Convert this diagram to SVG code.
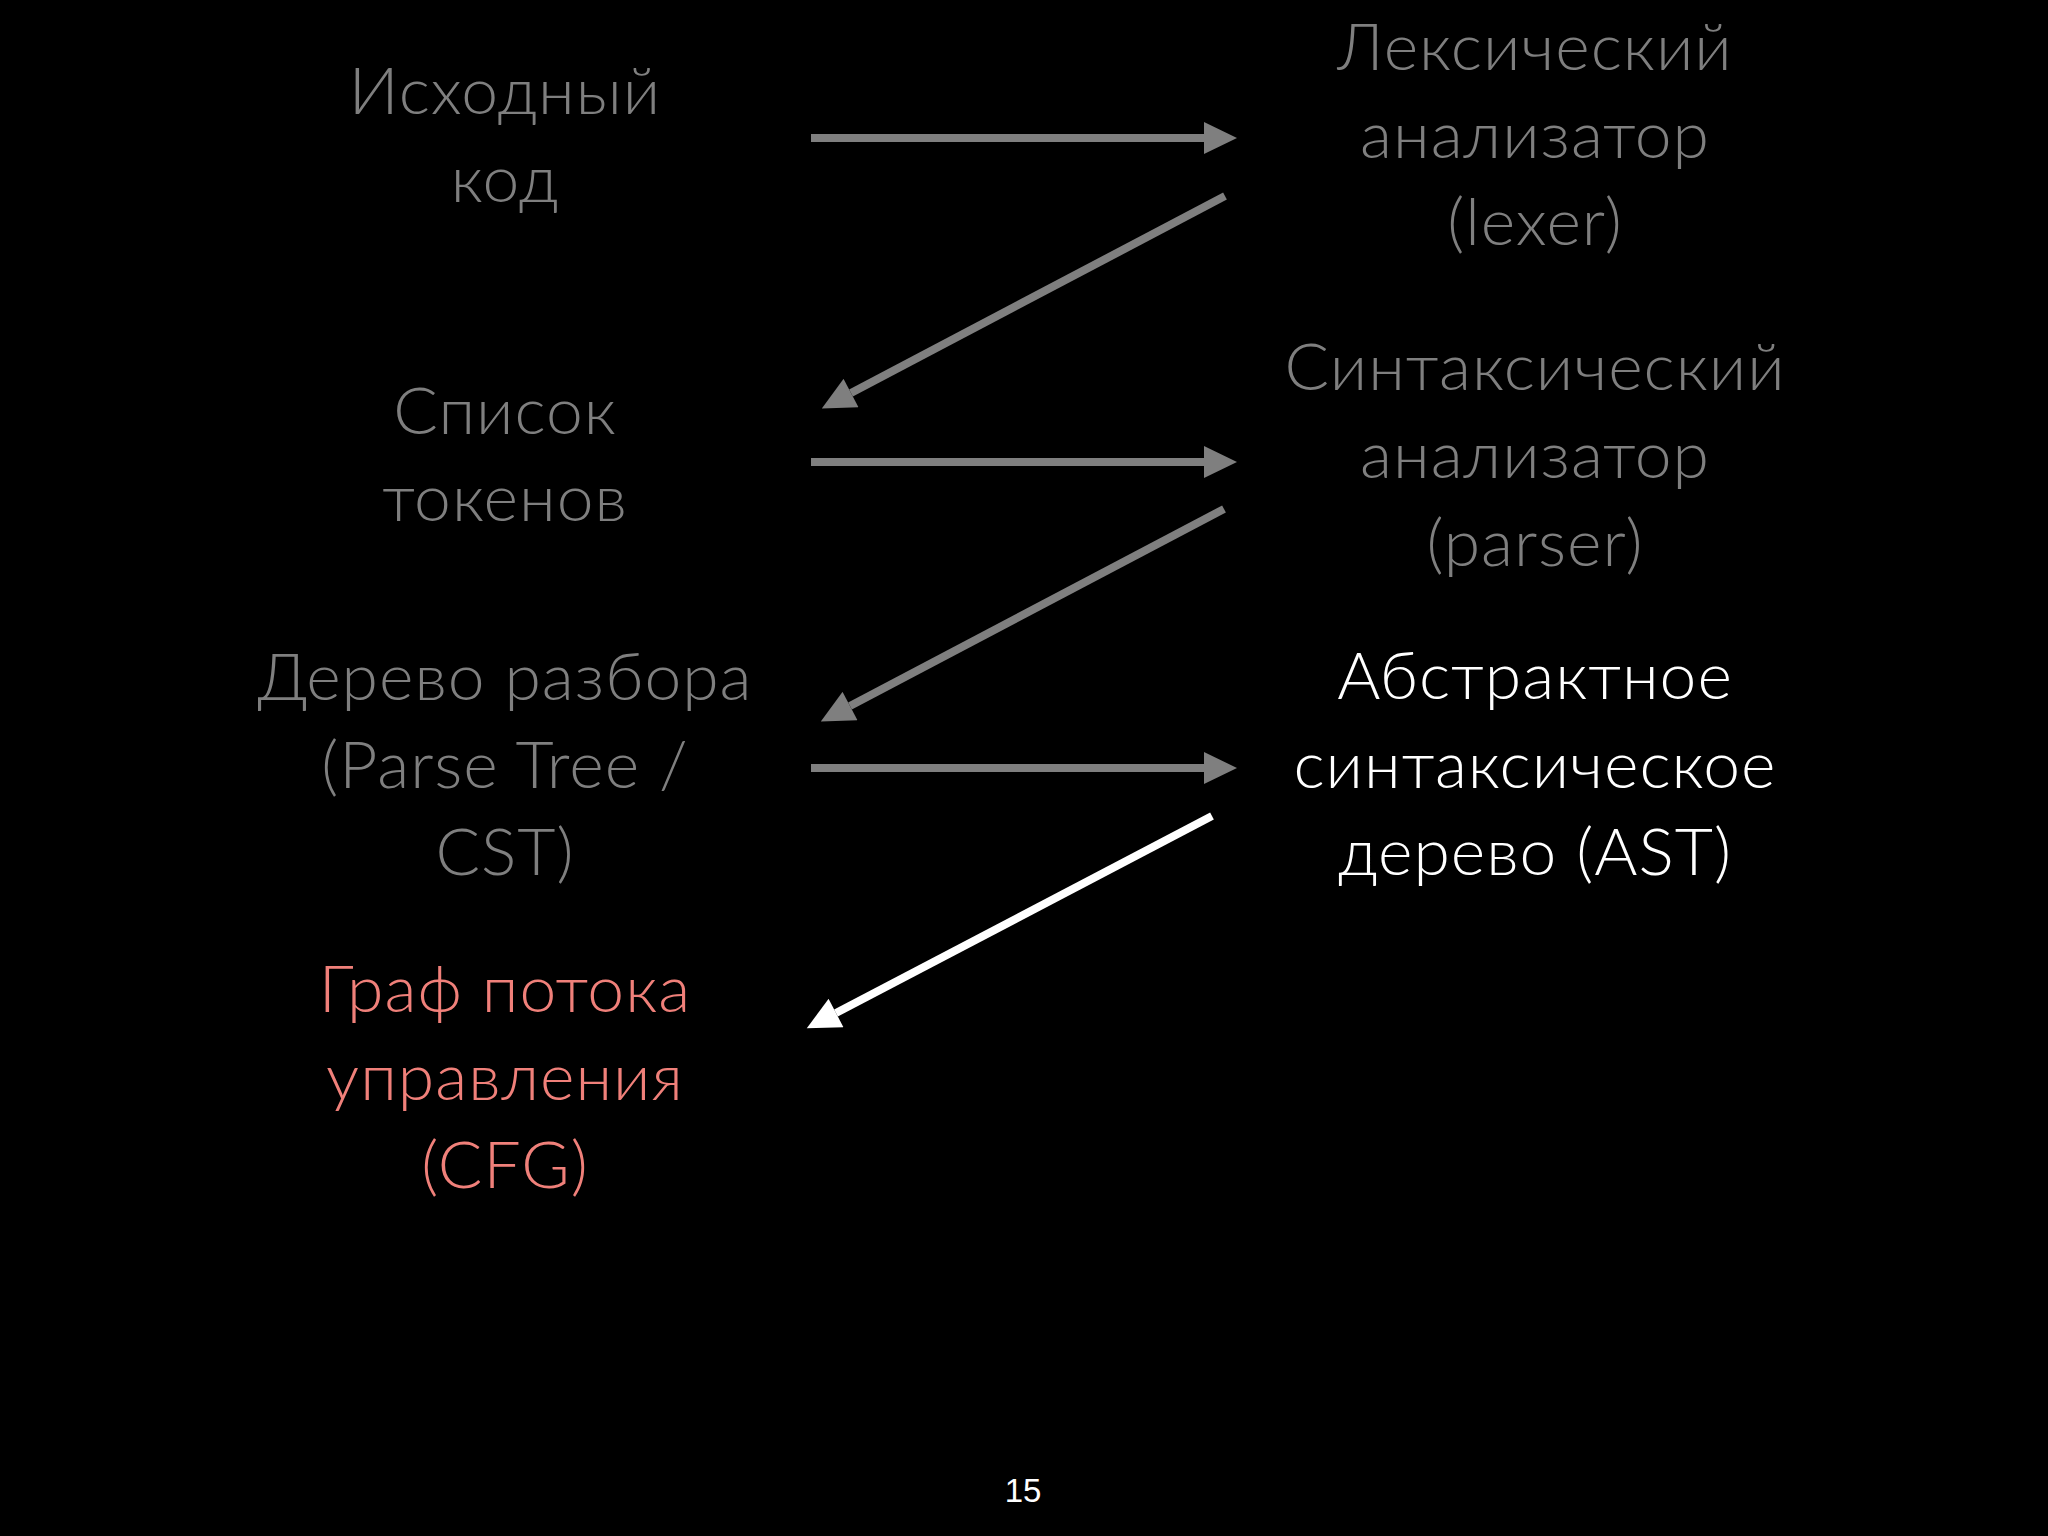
<svg xmlns="http://www.w3.org/2000/svg" width="2048" height="1536" viewBox="0 0 2048 1536">
<style>
.t{font-family:Lato,"Open Sans","Noto Sans",sans-serif;font-weight:300;font-size:66px;letter-spacing:1px;text-anchor:middle}
.g{fill:#7f7f7f}
.w{fill:#ffffff}
.r{fill:#f0807a}
.lg{stroke:#7f7f7f;stroke-width:8;fill:none}
.lw{stroke:#ffffff;stroke-width:8;fill:none}
</style>
<defs>
<marker id="ag" markerUnits="userSpaceOnUse" markerWidth="34" markerHeight="32" viewBox="0 0 33 32" refX="0" refY="16" orient="auto"><path d="M0,0 L33,16 L0,32 Z" fill="#7f7f7f"/></marker>
<marker id="aw" markerUnits="userSpaceOnUse" markerWidth="34" markerHeight="32" viewBox="0 0 33 32" refX="0" refY="16" orient="auto"><path d="M0,0 L33,16 L0,32 Z" fill="#ffffff"/></marker>
</defs>
<rect width="2048" height="1536" fill="#000"/>
<g id="src"><text class="t g" x="505" y="114">Исходный</text><text class="t g" x="505" y="202">код</text></g>
<g id="lexer"><text class="t g" x="1535" y="70">Лексический</text><text class="t g" x="1535" y="158">анализатор</text><text class="t g" x="1535" y="245">(lexer)</text></g>
<g id="tokens"><text class="t g" x="505" y="434">Список</text><text class="t g" x="505" y="521">токенов</text></g>
<g id="parser"><text class="t g" x="1535" y="390">Синтаксический</text><text class="t g" x="1535" y="478">анализатор</text><text class="t g" x="1535" y="566">(parser)</text></g>
<g id="cst"><text class="t g" x="505" y="700">Дерево разбора</text><text class="t g" x="505" y="788">(Parse Tree /</text><text class="t g" x="505" y="875">CST)</text></g>
<g id="ast"><text class="t w" x="1535" y="699">Абстрактное</text><text class="t w" x="1535" y="788">синтаксическое</text><text class="t w" x="1535" y="875">дерево (AST)</text></g>
<g id="cfg"><text class="t r" x="505" y="1012">Граф потока</text><text class="t r" x="505" y="1100">управления</text><text class="t r" x="505" y="1188">(CFG)</text></g>
<g id="connectors">
<line class="lg" x1="811" y1="138" x2="1204" y2="138" marker-end="url(#ag)"/>
<line class="lg" x1="1225" y1="196" x2="851" y2="393" marker-end="url(#ag)"/>
<line class="lg" x1="811" y1="462" x2="1204" y2="462" marker-end="url(#ag)"/>
<line class="lg" x1="1224" y1="509" x2="850" y2="706" marker-end="url(#ag)"/>
<line class="lg" x1="811" y1="768" x2="1204" y2="768" marker-end="url(#ag)"/>
<line class="lw" x1="1212" y1="816" x2="836" y2="1013" marker-end="url(#aw)"/>
</g>
<text x="1023" y="1502" font-family="'Liberation Sans',Arial,sans-serif" font-size="33" fill="#ffffff" text-anchor="middle">15</text>
</svg>
